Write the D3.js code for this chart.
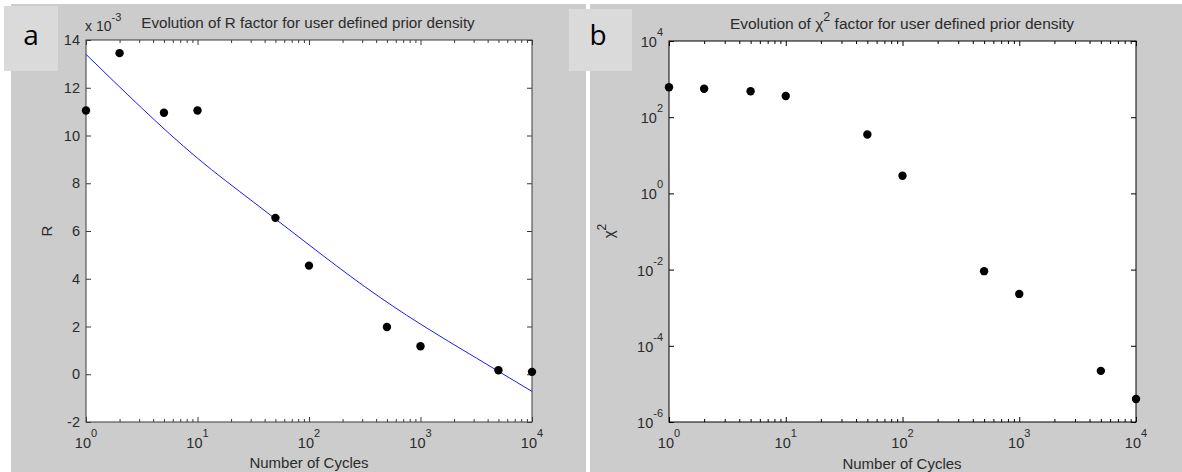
<!DOCTYPE html>
<html>
<head>
<meta charset="utf-8">
<script src="https://cdn.jsdelivr.net/npm/d3@7"></script>
<style>
body { margin: 0; background: #fff; }
text { font-family: "Liberation Sans", Arial, sans-serif; fill: #2b2b2b; }
</style>
</head>
<body>
<div id="chart"></div>
<script>
const width = 1182;
const height = 472;

// shared x: number of cycles
const cycles = [1, 2, 5, 10, 50, 100, 500, 1000, 5000, 10000];
const xTickExps = [0, 1, 2, 3, 4];

// panel a: R factor (x 10^-3) and the fitted curve
const rValues = [11.05, 13.45, 10.95, 11.05, 6.55, 4.55, 1.98, 1.17, 0.17, 0.1];
const fitCycles = [1, 3.16, 10, 31.6, 100, 316, 1000, 3162, 10000];
const fitValues = [13.4, 11.15, 9.05, 7.22, 5.42, 3.67, 2.1, 0.68, -0.72];
const rTicks = [-2, 0, 2, 4, 6, 8, 10, 12, 14];

// panel b: chi^2
const chiValues = [610, 560, 480, 360, 35, 2.9, 0.0091, 0.0023, 2.2e-5, 4e-6];
const chiTickExps = [-6, -4, -2, 0, 2, 4];

const svg = d3.select('#chart')
    .append('svg')
    .attr('width', width)
    .attr('height', height);

// figure backgrounds
svg.append('rect').attr('x', 11).attr('y', 4).attr('width', 575).attr('height', height - 4).attr('fill', '#cccccc');
svg.append('rect').attr('x', 590).attr('y', 4).attr('width', width - 590).attr('height', height - 4).attr('fill', '#cccccc');

// panel letters
svg.append('rect').attr('x', 4).attr('y', 6).attr('width', 54).attr('height', 65).attr('fill', '#dadada');
svg.append('rect').attr('x', 569).attr('y', 9).attr('width', 63).attr('height', 62).attr('fill', '#dadada');
svg.append('text').attr('x', 31).attr('y', 45).attr('text-anchor', 'middle')
    .style('font-family', '"Open Sans", sans-serif').style('font-size', '28px').style('fill', '#000').text('a');
svg.append('text').attr('x', 598).attr('y', 45).attr('text-anchor', 'middle')
    .style('font-family', '"Open Sans", sans-serif').style('font-size', '28px').style('fill', '#000').text('b');

function drawFrame(x, y, boxColor) {
    const [x0, x1] = x.range();
    const [y0, y1] = y.range();
    const g = svg.append('g');
    g.append('rect')
        .attr('x', x0).attr('y', y1)
        .attr('width', x1 - x0).attr('height', y0 - y1)
        .attr('fill', '#fff');

    const minor = x.ticks().filter(d => Math.abs(Math.log10(d) % 1) > 1e-9);
    const major = xTickExps.map(e => Math.pow(10, e));

    [[minor, 3], [major, 5]].forEach(([vals, len]) => {
        g.append('g').attr('transform', `translate(0,${y0})`)
            .call(d3.axisBottom(x).tickValues(vals).tickSize(-len).tickSizeOuter(0).tickFormat(''))
            .call(a => a.select('.domain').remove())
            .call(a => a.selectAll('line').attr('stroke', boxColor));
        g.append('g').attr('transform', `translate(0,${y1})`)
            .call(d3.axisTop(x).tickValues(vals).tickSize(-len).tickSizeOuter(0).tickFormat(''))
            .call(a => a.select('.domain').remove())
            .call(a => a.selectAll('line').attr('stroke', boxColor));
    });

    g.append('rect')
        .attr('x', x0).attr('y', y1)
        .attr('width', x1 - x0).attr('height', y0 - y1)
        .attr('fill', 'none').attr('stroke', boxColor).attr('stroke-width', 1);

    // x tick labels 10^n
    major.forEach((v, i) => {
        const t = g.append('text')
            .attr('x', x(v)).attr('y', y0 + 26)
            .attr('text-anchor', 'middle')
            .style('font-size', '14.5px');
        t.append('tspan').text('10');
        t.append('tspan').attr('dy', -11).style('font-size', '11px').text(xTickExps[i]);
    });
    return g;
}

function yTicks(g, x, y, vals, len, boxColor) {
    const [x0, x1] = x.range();
    g.append('g').attr('transform', `translate(${x0},0)`)
        .call(d3.axisLeft(y).tickValues(vals).tickSize(-len).tickSizeOuter(0).tickFormat(''))
        .call(a => a.select('.domain').remove())
        .call(a => a.selectAll('line').attr('stroke', boxColor));
    g.append('g').attr('transform', `translate(${x1},0)`)
        .call(d3.axisRight(y).tickValues(vals).tickSize(-len).tickSizeOuter(0).tickFormat(''))
        .call(a => a.select('.domain').remove())
        .call(a => a.selectAll('line').attr('stroke', boxColor));
}

// ---------- panel a ----------
const xa = d3.scaleLog().domain([1, 1e4]).range([86, 532]);
const ya = d3.scaleLinear().domain([-2, 14]).range([422, 40]);
const ga = drawFrame(xa, ya, '#3a3a3a');
yTicks(ga, xa, ya, rTicks, 5, '#3a3a3a');

ga.selectAll('.ylab')
    .data(rTicks)
    .join('text')
    .attr('x', 80)
    .attr('y', d => ya(d))
    .attr('dy', '0.36em')
    .attr('text-anchor', 'end')
    .style('font-size', '14.5px')
    .text(d => d);

const exp3 = ga.append('text').attr('x', 85).attr('y', 31).style('font-size', '14px');
exp3.append('tspan').text('x 10');
exp3.append('tspan').attr('dy', -10).style('font-size', '11px').text('-3');

ga.append('path')
    .datum(fitCycles.map((c, i) => [c, fitValues[i]]))
    .attr('d', d3.line().x(d => xa(d[0])).y(d => ya(d[1])).curve(d3.curveNatural))
    .attr('fill', 'none')
    .attr('stroke', '#1a1aff')
    .attr('stroke-width', 1);

ga.selectAll('.dot')
    .data(cycles.map((c, i) => [c, rValues[i]]))
    .join('circle')
    .attr('cx', d => xa(d[0]))
    .attr('cy', d => ya(d[1]))
    .attr('r', 4.2)
    .attr('fill', '#000');

ga.append('text').attr('x', 308).attr('y', 28).attr('text-anchor', 'middle')
    .style('font-size', '15.2px').text('Evolution of R factor for user defined prior density');
ga.append('text').attr('x', 309).attr('y', 468).attr('text-anchor', 'middle')
    .style('font-size', '15px').text('Number of Cycles');
ga.append('text').attr('transform', 'translate(52,231) rotate(-90)').attr('text-anchor', 'middle')
    .style('font-size', '15px').text('R');

// ---------- panel b ----------
const xb = d3.scaleLog().domain([1, 1e4]).range([669, 1136]);
const yb = d3.scaleLog().domain([1e-6, 1e4]).range([422, 41]);
const gb = drawFrame(xb, yb, '#000');
const chiTicks = chiTickExps.map(e => Math.pow(10, e));
yTicks(gb, xb, yb, chiTicks, 5, '#000');

chiTickExps.forEach((e, i) => {
    const t = gb.append('text')
        .attr('x', 663)
        .attr('y', yb(chiTicks[i]) + 6)
        .attr('text-anchor', 'end')
        .style('font-size', '14.5px');
    t.append('tspan').text('10');
    t.append('tspan').attr('dy', -11).style('font-size', '11px').text(e);
});

gb.selectAll('.dot')
    .data(cycles.map((c, i) => [c, chiValues[i]]))
    .join('circle')
    .attr('cx', d => xb(d[0]))
    .attr('cy', d => yb(d[1]))
    .attr('r', 4.2)
    .attr('fill', '#000');

const tb = gb.append('text').attr('x', 902).attr('y', 29).attr('text-anchor', 'middle').style('font-size', '15.5px');
tb.append('tspan').text('Evolution of \u03c7');
tb.append('tspan').attr('dy', -8).style('font-size', '12.5px').text('2');
tb.append('tspan').attr('dy', 8).text(' factor for user defined prior density');

gb.append('text').attr('x', 902).attr('y', 469).attr('text-anchor', 'middle')
    .style('font-size', '15px').text('Number of Cycles');
const yl = gb.append('text').attr('transform', 'translate(614,231) rotate(-90)').attr('text-anchor', 'middle')
    .style('font-size', '15px');
yl.append('tspan').text('\u03c7');
yl.append('tspan').attr('dy', -8).style('font-size', '12px').text('2');
</script>
</body>
</html>
